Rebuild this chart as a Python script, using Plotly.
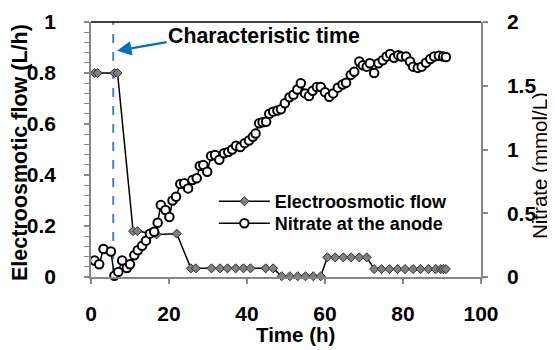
import plotly.graph_objects as go

# Electroosmotic flow (L/h)
eof_time = [0.9, 1.7, 6.0, 6.8, 10.8, 11.9, 16.8, 22.0, 25.6, 26.9, 30.9, 33.1, 35.0, 37.1,
            39.1, 40.9, 44.8, 46.7, 48.9, 51.0, 53.0, 55.0, 57.0, 58.9, 60.6, 62.6, 64.7,
            66.7, 68.8, 70.7, 72.6, 74.5, 76.5, 78.6, 80.5, 82.6, 84.5, 86.5, 88.4, 89.7,
            90.3, 91.0]
eof_flow = [0.8, 0.8, 0.8, 0.8, 0.18, 0.18, 0.167, 0.17, 0.034, 0.034, 0.034, 0.034, 0.034,
            0.034, 0.034, 0.034, 0.034, 0.034, 0.003, 0.003, 0.003, 0.003, 0.003, 0.003,
            0.077, 0.077, 0.077, 0.077, 0.077, 0.077, 0.031, 0.031, 0.031, 0.031, 0.031,
            0.031, 0.031, 0.031, 0.031, 0.031, 0.031, 0.031]

# Nitrate at the anode (mmol/L)
no3_time = [0.9, 2.1, 3.2, 5.1, 6.0, 7.0, 8.0, 9.2, 10.0, 11.1, 12.0, 13.1, 14.1, 15.1, 16.2,
            17.1, 17.9, 19.1, 20.1, 20.9, 21.8, 22.9, 23.9, 24.9, 26.0, 27.1, 27.9, 28.8,
            29.8, 30.8, 31.8, 32.9, 34.1, 35.2, 36.2, 37.2, 38.3, 39.4, 40.5, 41.5, 42.2,
            43.1, 44.0, 44.9, 45.7, 46.7, 47.8, 48.7, 49.7, 50.9, 51.9, 52.9, 53.8, 54.9,
            55.9, 56.8, 57.9, 58.9, 60.0, 61.1, 62.1, 63.3, 64.5, 65.4, 66.6, 67.5, 68.8,
            69.7, 70.7, 71.5, 72.6, 73.7, 74.8, 75.8, 76.7, 77.7, 78.8, 79.6, 80.8, 81.8,
            82.6, 83.8, 84.8, 85.9, 87.0, 88.0, 89.2, 90.3, 91.0]
no3_conc = [0.13, 0.10, 0.22, 0.20, 0.01, 0.04, 0.13, 0.07, 0.10, 0.17, 0.21, 0.245, 0.285,
            0.34, 0.355, 0.425, 0.565, 0.525, 0.47, 0.60, 0.63, 0.73, 0.735, 0.695, 0.76,
            0.774, 0.87, 0.878, 0.826, 0.95, 0.957, 0.92, 0.97, 0.98, 1.00, 1.03, 1.02, 1.05,
            1.07, 1.10, 1.125, 1.205, 1.213, 1.218, 1.28, 1.297, 1.305, 1.315, 1.362, 1.41,
            1.43, 1.47, 1.52, 1.44, 1.42, 1.46, 1.49, 1.49, 1.45, 1.414, 1.44, 1.485, 1.51,
            1.524, 1.585, 1.61, 1.69, 1.66, 1.65, 1.676, 1.60, 1.676, 1.70, 1.73, 1.75, 1.72,
            1.74, 1.73, 1.73, 1.69, 1.65, 1.64, 1.65, 1.68, 1.71, 1.73, 1.735, 1.73, 1.725]

char_time = 5.7

FONT = "Liberation Sans, Arial, sans-serif"
GRAY = "#868686"

fig = go.Figure()
fig.add_trace(go.Scatter(
    x=eof_time, y=eof_flow, name="Electroosmotic flow", mode="lines+markers",
    line=dict(color="black", width=1.5),
    marker=dict(symbol="diamond", size=7, color="#7f7f7f", line=dict(color="#333333", width=1)),
    cliponaxis=False, yaxis="y", legend="legend"))
fig.add_trace(go.Scatter(
    x=no3_time, y=no3_conc, name="Nitrate at the anode", mode="lines+markers",
    line=dict(color="black", width=1.5),
    marker=dict(symbol="circle", size=8.5, color="white", line=dict(color="black", width=2)),
    cliponaxis=False, yaxis="y2", legend="legend2"))

leg_font = dict(size=18, family=FONT, weight="bold")
tick_font = dict(size=21, family=FONT, weight="bold")
fig.update_layout(
    width=547, height=342,
    margin=dict(l=83, r=74, t=14, b=73, autoexpand=False),
    paper_bgcolor="white", plot_bgcolor="white",
    font=dict(family=FONT, color="black"),
    showlegend=True,
    legend=dict(x=0.315, y=(277 - 201.5) / 255, xanchor="left", yanchor="middle",
                font=leg_font, bgcolor="rgba(0,0,0,0)", itemwidth=51),
    legend2=dict(x=0.315, y=(277 - 223.5) / 255, xanchor="left", yanchor="middle",
                 font=leg_font, bgcolor="rgba(0,0,0,0)", itemwidth=51),
    xaxis=dict(range=[0, 100], dtick=20, showgrid=False, zeroline=False, automargin=False,
               showline=True, linecolor=GRAY, linewidth=1.5,
               ticks="outside", ticklen=5, tickcolor=GRAY, tickwidth=1.5,
               tickfont=tick_font, ticklabelstandoff=12),
    yaxis=dict(range=[0, 1], dtick=0.2, showgrid=False, zeroline=False, automargin=False,
               showline=True, linecolor=GRAY, linewidth=1.5,
               ticks="outside", ticklen=5, tickcolor=GRAY, tickwidth=1.5,
               minor=dict(dtick=0.04, ticks="outside", ticklen=5, tickcolor=GRAY, tickwidth=1),
               tickfont=tick_font, ticklabelstandoff=24),
    yaxis2=dict(range=[0, 2], dtick=0.5, overlaying="y", side="right", automargin=False,
                showgrid=False, zeroline=False,
                showline=True, linecolor=GRAY, linewidth=1.5,
                ticks="outside", ticklen=5, tickcolor=GRAY, tickwidth=1.5,
                tickfont=tick_font, ticklabelstandoff=15),
)

# top border
fig.add_shape(type="line", xref="paper", yref="paper", x0=0, x1=1, y0=1, y1=1,
              line=dict(color="black", width=1.5))
# characteristic time dashed line
fig.add_shape(type="line", xref="x", yref="y", x0=char_time, x1=char_time, y0=0, y1=1,
              line=dict(color="#4f81bd", width=2, dash="dash"), layer="below")

# arrow
fig.add_annotation(x=6.7, y=0.887, xref="x", yref="y", text="", showarrow=True,
                   ax=51, ay=-9, arrowhead=2, arrowsize=1.3, arrowwidth=2.2,
                   arrowcolor="#0070c0")
fig.add_annotation(x=19.2, y=0.945, xref="x", yref="y", text="<b>Characteristic time</b>",
                   showarrow=False, xanchor="left", yanchor="middle",
                   font=dict(size=21.3, family=FONT, color="black"))

# axis titles
fig.add_annotation(x=(20 - 91) / 390, y=(277 - 153) / 255, xref="paper", yref="paper",
                   text="<b>Electroosmotic flow (L/h)</b>", textangle=-90, showarrow=False,
                   xanchor="center", yanchor="middle", font=dict(size=21.5, family=FONT))
fig.add_annotation(x=(539 - 91) / 390, y=(277 - 166) / 255, xref="paper", yref="paper",
                   text="Nitrate (mmol/L)", textangle=-90, showarrow=False,
                   xanchor="center", yanchor="middle", font=dict(size=20.5, family=FONT))
fig.add_annotation(x=(295 - 91) / 390, y=-(334 - 277) / 255, xref="paper", yref="paper",
                   text="<b>Time (h)</b>", showarrow=False,
                   xanchor="center", yanchor="middle", font=dict(size=20.5, family=FONT))

fig.write_html("out.html")
